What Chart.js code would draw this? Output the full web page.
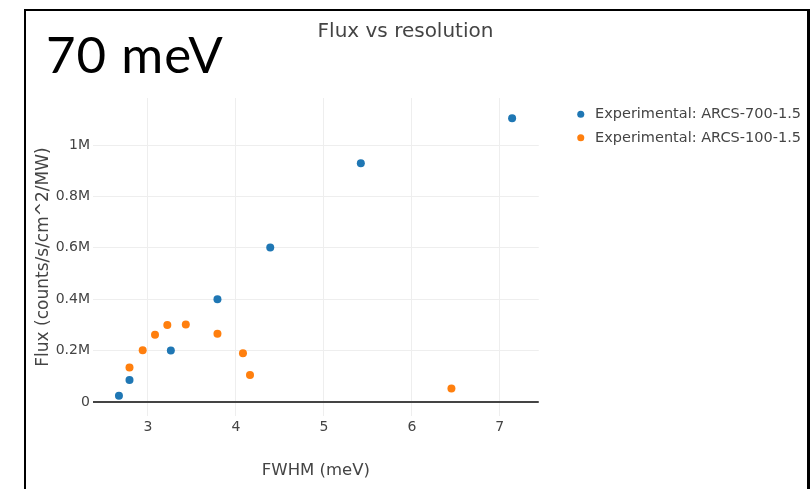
<!DOCTYPE html>
<html>
<head>
<meta charset="utf-8">
<script src="https://cdn.jsdelivr.net/npm/chart.js@4"></script>
<style>
  body { margin: 0; background: #fff; }
  #wrap { position: relative; width: 811px; height: 489px; overflow: hidden; }
  #frame { position: absolute; left: 24px; top: 9px; width: 786px; height: 520px;
           box-sizing: border-box; border: 2px solid #000; border-right-width: 3px; pointer-events: none; }
  #big { position: absolute; left: 46px; top: 28px; font: 400 51px Lato, sans-serif; letter-spacing: 1px;
         color: #000; line-height: 1; }
</style>
</head>
<body>
<div id="wrap">
  <canvas id="fluxChart" width="811" height="489"></canvas>
  <div id="frame"></div>
  <div id="big">70 meV</div>
</div>
<script>
// ---- data ----
const fwhm700 = [2.67, 2.79, 3.26, 3.79, 4.39, 5.42, 7.14];
const flux700 = [24000, 86000, 200000, 400000, 601000, 929000, 1104000];

const fwhm100 = [2.79, 2.94, 3.08, 3.22, 3.43, 3.79, 4.08, 4.16, 6.45];
const flux100 = [134000, 201000, 262000, 300000, 302000, 266000, 190000, 105000, 53000];

const xTicks = [3, 4, 5, 6, 7];
const yTicks = [0, 200000, 400000, 600000, 800000, 1000000];
const yTickLabels = ["0", "0.2M", "0.4M", "0.6M", "0.8M", "1M"];

const toPoints = (xs, ys) => xs.map((x, i) => ({ x: x, y: ys[i] }));

const txt = "#444";
const font = "'DejaVu Sans', Verdana, sans-serif";

new Chart(document.getElementById("fluxChart"), {
    type: "scatter",
    data: {
        datasets: [{
            label: "Experimental: ARCS-700-1.5",
            data: toPoints(fwhm700, flux700),
            backgroundColor: "#1f77b4",
            borderWidth: 0,
            pointRadius: 4,
            pointStyle: "circle"
        }, {
            label: "Experimental: ARCS-100-1.5",
            data: toPoints(fwhm100, flux100),
            backgroundColor: "#ff7f0e",
            borderWidth: 0,
            pointRadius: 4,
            pointStyle: "circle"
        }]
    },
    options: {
        responsive: false,
        animation: false,
        layout: { padding: { right: 0 } },
        plugins: {
            title: {
                display: true,
                text: "Flux vs resolution",
                color: txt,
                font: { family: font, size: 20, weight: "normal" },
                padding: { top: 20, bottom: 54 }
            },
            legend: {
                position: "right",
                align: "start",
                fullSize: false,
                maxWidth: 320,
                labels: {
                    usePointStyle: true,
                    boxWidth: 14,
                    boxHeight: 5,
                    padding: 9,
                    color: txt,
                    font: { family: font, size: 14.5 }
                }
            },
            tooltip: { enabled: false }
        },
        scales: {
            x: {
                type: "linear",
                min: 2.375,
                max: 7.443,
                afterBuildTicks: s => { s.ticks = xTicks.map(v => ({ value: v })); },
                afterFit: s => { s.height = 73; },
                ticks: { color: txt, padding: 3, font: { family: font, size: 14 } },
                grid: { color: "#eee", drawTicks: false },
                border: { display: false },
                title: {
                    display: true,
                    text: "FWHM (meV)",
                    color: txt,
                    font: { family: font, size: 16.5 },
                    padding: { top: 0, bottom: 8 }
                }
            },
            y: {
                type: "linear",
                min: -54500,
                max: 1183000,
                afterBuildTicks: s => { s.ticks = yTicks.map(v => ({ value: v })); },
                afterFit: s => { s.width = 93; },
                ticks: {
                    color: txt,
                    padding: 3,
                    font: { family: font, size: 14 },
                    callback: v => yTickLabels[yTicks.indexOf(v)]
                },
                grid: {
                    drawTicks: false,
                    color: c => c.tick && c.tick.value === 0 ? "#444" : "#eee",
                    lineWidth: c => c.tick && c.tick.value === 0 ? 2 : 1
                },
                border: { display: false },
                title: {
                    display: true,
                    text: "Flux (counts/s/cm^2/MW)",
                    color: txt,
                    font: { family: font, size: 17 },
                    padding: { top: 33, bottom: 0 }
                }
            },
            // empty spacer between the plot and the legend
            gap: {
                type: "linear",
                position: "right",
                grid: { display: false },
                ticks: { display: false },
                border: { display: false },
                afterFit: s => { s.width = 26; }
            }
        }
    }
});
</script>
</body>
</html>
